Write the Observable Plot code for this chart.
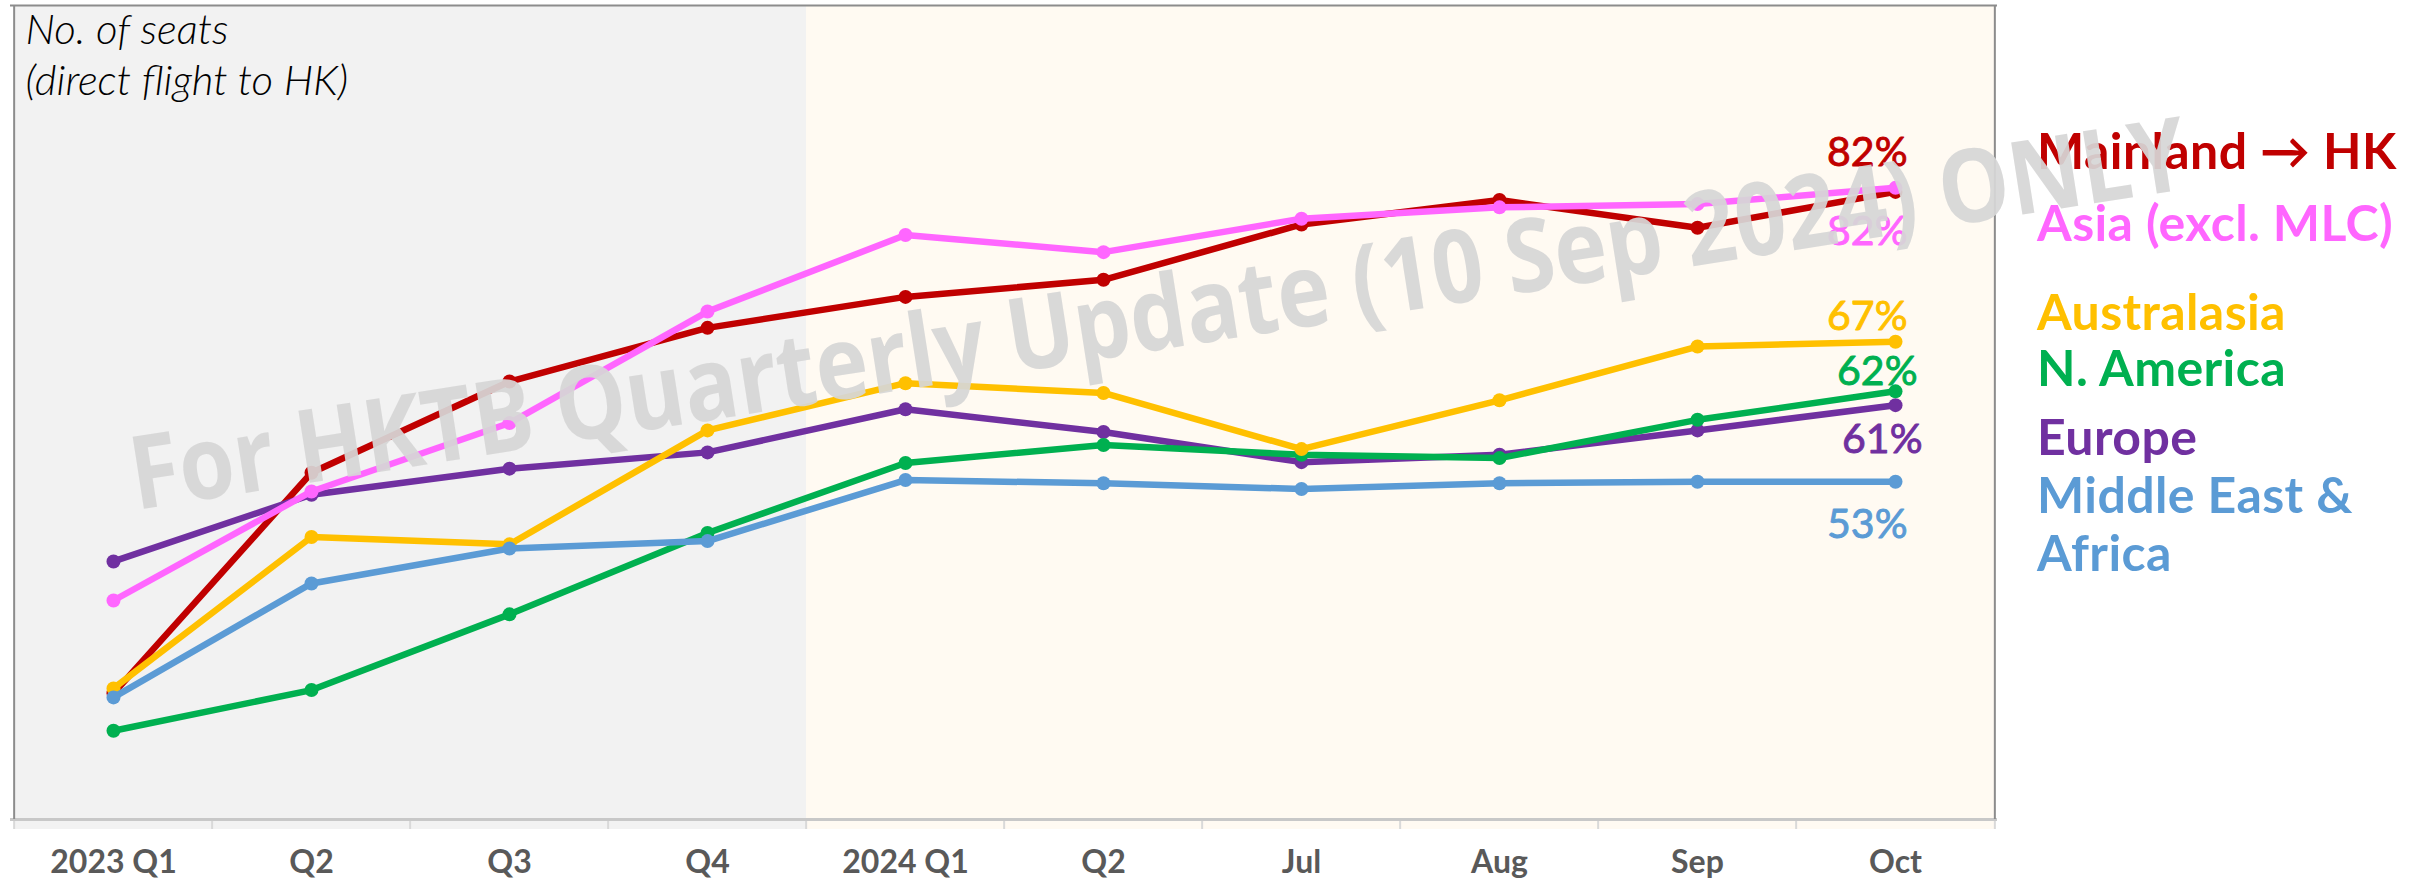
<!DOCTYPE html>
<html><head><meta charset="utf-8">
<script src="https://cdn.jsdelivr.net/npm/d3@7"></script>
<script src="https://cdn.jsdelivr.net/npm/@observablehq/plot@0.6"></script>
<style>
body{margin:0;background:#fff;}
#wrap{position:relative;width:2423px;height:882px;overflow:hidden;font-family:Lato,"Open Sans",sans-serif;}
#wrap svg{position:absolute;left:0;top:0;}
.leg{position:absolute;left:2037px;width:384px;font-weight:bold;font-size:50px;line-height:58px;letter-spacing:0.4px;transform:translateY(-50%);white-space:normal;}
</style></head><body><div id="wrap"></div>
<script>
// ---- data ----
const periodKeys = ["2023Q1","2023Q2","2023Q3","2023Q4","2024Q1","2024Q2","2024-07","2024-08","2024-09","2024-10"];
const tickLabels = ["2023 Q1","Q2","Q3","Q4","2024 Q1","Q2","Jul","Aug","Sep","Oct"];
const seriesNames = ["Mainland → HK","Asia (excl. MLC)","Australasia","N. America","Europe","Middle East & Africa"];
const mainland    = [15.5, 42.6, 53.8, 60.4, 64.2, 66.3, 73.1, 76.1, 72.7, 77.1];
const asia        = [26.9, 40.3, 48.7, 62.4, 71.8, 69.7, 73.8, 75.2, 75.6, 77.6];
const australasia = [16.1, 34.7, 33.8, 47.8, 53.6, 52.4, 45.5, 51.5, 58.1, 58.7];
const nAmerica    = [10.9, 15.9, 25.2, 35.2, 43.8, 46.0, 44.8, 44.4, 49.1, 52.6];
const europe      = [31.7, 39.9, 43.1, 45.1, 50.4, 47.6, 43.9, 44.8, 47.8, 50.9];
const mea         = [15.0, 29.0, 33.3, 34.2, 41.7, 41.3, 40.6, 41.3, 41.5, 41.5];
const latestPct   = ["82%","82%","67%","62%","61%","53%"];
const titleText   = "No. of seats\n(direct flight to HK)";
const watermarkText = "For HKTB Quarterly Update (10 Sep 2024) ONLY";

// ---- styles / layout ----
const colors = ["#C00000","#FF66FF","#FFC000","#00B050","#7030A0","#5B9BD5"];
const drawOrder = [0,4,1,3,2,5];
const pctDx = [12,12,12,22,27,12];
const pctDy = [-39,44,-25,-19,35,43];
const legendCenters = [150,222,311,367,436,523];

const allValues = [mainland, asia, australasia, nAmerica, europe, mea];
const W = 2423, H = 882, mL = 10, mR = 2423-1997, mT = 5, mB = 882-829;
const yMin = -1.23, yMax = 100;
const bw = (W - mL - mR) / periodKeys.length;

const lineMarks = [];
for (const i of drawOrder) {
  const rows = periodKeys.map((k,j)=>({k, v: allValues[i][j]}));
  lineMarks.push(Plot.line(rows, {x:"k", y:"v", stroke:colors[i], strokeWidth:6.5, strokeLinejoin:"round"}));
  lineMarks.push(Plot.dot(rows, {x:"k", y:"v", r:7, fill:colors[i], stroke:"none"}));
}
const pctMarks = allValues.map((vals,i)=> Plot.text([{k: periodKeys[periodKeys.length-1], v: vals[vals.length-1], t: latestPct[i]}],
  {x:"k", y:"v", text:"t", dx:pctDx[i], dy:pctDy[i], textAnchor:"end", fontSize:41, fill:colors[i], fontWeight:"normal", stroke:colors[i], strokeWidth:0.9}));

const firstYear = periodKeys.filter(k=>k.startsWith("2023"));
const secondYear = periodKeys.filter(k=>!k.startsWith("2023"));

const plot = Plot.plot({
  width: W, height: H, marginLeft: mL, marginRight: mR, marginTop: mT, marginBottom: mB,
  style: {background:"transparent", fontFamily:"Lato, 'Open Sans', sans-serif", overflow:"visible"},
  x: {domain: periodKeys, padding: 0, axis: null},
  y: {domain: [yMin, yMax], axis: null},
  marks: [
    Plot.barY(firstYear, {x:d=>d, y1:yMin, y2:yMax, fill:"#F2F2F2", shapeRendering:"crispEdges"}),
    Plot.barY(secondYear, {x:d=>d, y1:yMin, y2:yMax, fill:"#FFFAF2", shapeRendering:"crispEdges"}),
    Plot.ruleX(periodKeys, {x:d=>d, dx:-bw/2, y1:0, y2:yMin, stroke:"#D9D9D9", strokeWidth:2}),
    Plot.ruleX([periodKeys[periodKeys.length-1]], {x:d=>d, dx:bw/2, y1:0, y2:yMin, stroke:"#D9D9D9", strokeWidth:2}),
    Plot.ruleY([0], {stroke:"#C8C8C8", strokeWidth:3}),
    Plot.ruleY([yMax], {stroke:"#8C8C8C", strokeWidth:2}),
    Plot.ruleX([periodKeys[0]], {x:d=>d, dx:-bw/2, y1:0, y2:yMax, stroke:"#8C8C8C", strokeWidth:2}),
    Plot.ruleX([periodKeys[periodKeys.length-1]], {x:d=>d, dx:bw/2, y1:0, y2:yMax, stroke:"#8C8C8C", strokeWidth:2}),
    Plot.text([titleText], {frameAnchor:"top-left", dx:15, dy:3, textAnchor:"start", lineAnchor:"top", fontSize:42, fontStyle:"italic", fontWeight:300, lineHeight:1.2, fill:"#000"}),
    Plot.text(periodKeys, {x:d=>d, text:(d,i)=>tickLabels[i], frameAnchor:"bottom", dy:43, fontSize:32, fontWeight:"bold", fill:"#595959"}),
    ...lineMarks,
    ...pctMarks
  ]
});
const wrap = document.getElementById("wrap");
wrap.appendChild(plot);

// legend
seriesNames.forEach((n,i)=>{
  const d = document.createElement("div");
  d.className = "leg";
  d.style.top = legendCenters[i] + "px";
  d.style.color = colors[i];
  d.textContent = n;
  wrap.appendChild(d);
});

// watermark overlay
const wm = d3.select(wrap).append("svg").attr("width", W).attr("height", H).style("pointer-events","none");
wm.append("text")
  .attr("transform", "translate(136,510) rotate(-8.9)")
  .attr("textLength", 2080).attr("lengthAdjust", "spacingAndGlyphs")
  .attr("font-family", "'Open Sans', Lato, sans-serif").attr("font-weight", "bold").attr("font-size", 102)
  .attr("fill", "#D6D6D6").attr("fill-opacity", 0.93)
  .text(watermarkText);
</script></body></html>
